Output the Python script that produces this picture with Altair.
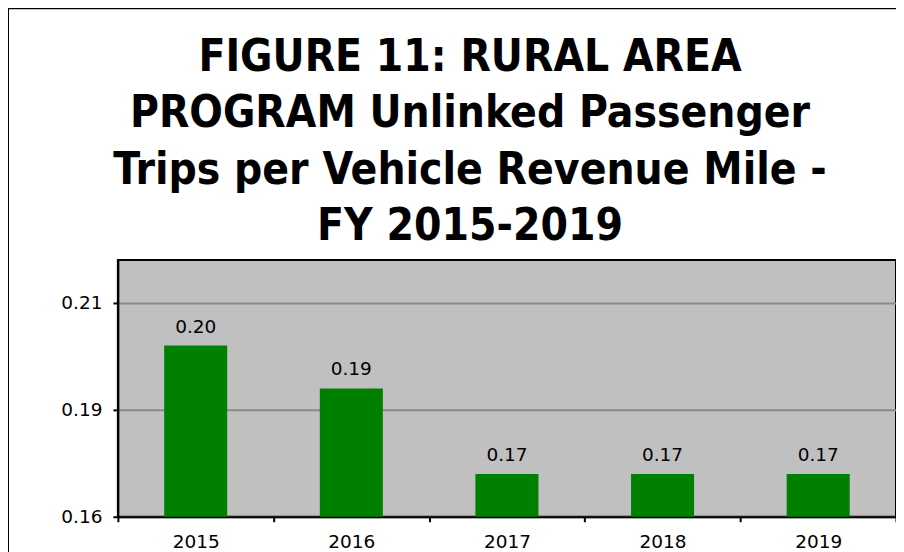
import altair as alt
import pandas as pd

years = ["2015", "2016", "2017", "2018", "2019"]
values = [0.200, 0.190, 0.170, 0.170, 0.170]
y_ticks = [0.16, 0.185, 0.21]
title_lines = [
    "FIGURE 11: RURAL AREA",
    "PROGRAM Unlinked Passenger",
    "Trips per Vehicle Revenue Mile -",
    "FY 2015-2019",
]

df = pd.DataFrame({"year": years, "value": values})

base = alt.Chart(df)

x = alt.X(
    "year:N",
    sort=years,
    scale=alt.Scale(paddingInner=0, paddingOuter=0),
    axis=alt.Axis(
        title=None,
        labelAngle=0,
        labelFont="DejaVu Sans",
        labelFontSize=18.5,
        labelColor="#000000",
        labelPadding=11,
        tickBand="extent",
        tickColor="#000000",
        tickWidth=2,
        tickSize=5,
        domainColor="#000000",
        domainWidth=2,
    ),
)
y = alt.Y(
    "value:Q",
    scale=alt.Scale(domain=[0.16, 0.22], nice=False, zero=False),
    axis=alt.Axis(
        title=None,
        values=y_ticks,
        labelExpr="format(datum.value + 1e-9, '.2f')",
        labelFont="DejaVu Sans",
        labelFontSize=18.5,
        labelColor="#000000",
        labelPadding=11,
        tickColor="#000000",
        tickWidth=2,
        tickSize=5,
        domainColor="#000000",
        domainWidth=2,
        grid=True,
        gridColor="#8a8a8a",
        gridWidth=2,
    ),
)

bars = base.mark_bar(color="#008000", width=alt.RelativeBandSize(0.405)).encode(
    x=x, y=y, y2=alt.datum(0.16)
)

labels = base.mark_text(
    font="DejaVu Sans",
    fontSize=18.5,
    color="#000000",
    baseline="alphabetic",
    dy=-13,
).encode(x=x, y=y, text=alt.Text("value:Q", format=".2f"))

border = alt.Chart(alt.Data(values=[{"a": 1}])).mark_rect(
    fillOpacity=0, stroke="#000000", strokeWidth=2
).encode(
    x=alt.value(-110),
    x2=alt.value(900),
    y=alt.value(-252),
    y2=alt.value(400),
)

chart = (
    alt.layer(bars, labels, border)
    .properties(
        width=779,
        height=257,
        autosize=alt.AutoSizeParams(type="none"),
        padding={"left": 110, "top": 252, "right": 0, "bottom": 45},
        background="#FFFFFF",
        title=alt.TitleParams(
            text=title_lines,
            font="DejaVu Sans Condensed, Liberation Sans, sans-serif",
            fontSize=44,
            fontWeight="bold",
            color="#000000",
            lineHeight=56.5,
            anchor="middle",
            dx=-37,
            offset=-242,
        ),
    )
    .configure_view(fill="#C0C0C0", stroke="#000000", strokeWidth=2)
)

chart.save("out.html", embed_options={"renderer": "svg", "actions": False})
